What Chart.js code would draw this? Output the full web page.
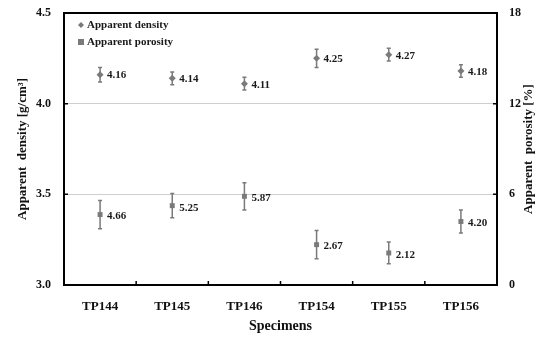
<!DOCTYPE html>
<html>
<head>
<meta charset="utf-8">
<script src="https://cdn.jsdelivr.net/npm/chart.js@4.4.1/dist/chart.umd.min.js"></script>
<style>
  html, body { margin: 0; padding: 0; background: #fff; }
  #wrap { width: 547px; height: 338px; }
</style>
</head>
<body>
<div id="wrap"><canvas id="myChart"></canvas></div>
<script>
// datos
const specimens = ["TP144", "TP145", "TP146", "TP154", "TP155", "TP156"];
const density = [4.16, 4.14, 4.11, 4.25, 4.27, 4.18];
const densityErr = [0.04, 0.035, 0.035, 0.05, 0.035, 0.035];
const porosity = [4.66, 5.25, 5.87, 2.67, 2.12, 4.20];
const porosityErr = [0.93, 0.8, 0.9, 0.93, 0.72, 0.76];
const densityTicks = [3.0, 3.5, 4.0, 4.5];
const porosityTicks = [0, 6, 12, 18];

const serif = "'Liberation Serif', 'Times New Roman', serif";
const gris = "#7a7a7a";

// barras de error, etiquetas, marco y leyenda
const extras = {
  id: "extras",
  afterDatasetsDraw(chart) {
    const ctx = chart.ctx;
    const a = chart.chartArea;
    const x = chart.scales.x;
    const y = chart.scales.y;
    const y1 = chart.scales.y1;
    ctx.save();

    // barras de error
    ctx.strokeStyle = gris;
    ctx.lineWidth = 1.5;
    const bars = (vals, errs, sc) => {
      vals.forEach((v, i) => {
        const px = x.getPixelForValue(i);
        const top = sc.getPixelForValue(v + errs[i]);
        const bot = sc.getPixelForValue(v - errs[i]);
        ctx.beginPath();
        ctx.moveTo(px, top); ctx.lineTo(px, bot);
        ctx.moveTo(px - 2, top); ctx.lineTo(px + 2, top);
        ctx.moveTo(px - 2, bot); ctx.lineTo(px + 2, bot);
        ctx.stroke();
      });
    };
    bars(density, densityErr, y);
    bars(porosity, porosityErr, y1);

    // etiquetas de valores
    ctx.fillStyle = "#1a1a1a";
    ctx.font = "bold 11px " + serif;
    ctx.textAlign = "left";
    ctx.textBaseline = "middle";
    density.forEach((v, i) => {
      ctx.fillText(v.toFixed(2), x.getPixelForValue(i) + 7, y.getPixelForValue(v) + 1);
    });
    porosity.forEach((v, i) => {
      ctx.fillText(v.toFixed(2), x.getPixelForValue(i) + 7, y1.getPixelForValue(v) + 2);
    });

    // marcas hacia adentro
    ctx.strokeStyle = "#000";
    ctx.lineWidth = 1.5;
    ctx.beginPath();
    densityTicks.forEach(t => {
      const py = y.getPixelForValue(t);
      ctx.moveTo(a.left, py); ctx.lineTo(a.left + 4, py);
    });
    porosityTicks.forEach(t => {
      const py = y1.getPixelForValue(t);
      ctx.moveTo(a.right, py); ctx.lineTo(a.right - 4, py);
    });
    for (let i = 1; i < specimens.length; i++) {
      const px = (x.getPixelForValue(i - 1) + x.getPixelForValue(i)) / 2;
      ctx.moveTo(px, a.bottom); ctx.lineTo(px, a.bottom - 4);
    }
    ctx.stroke();

    // marco
    ctx.lineWidth = 2;
    ctx.strokeRect(a.left, a.top, a.right - a.left, a.bottom - a.top);

    // leyenda
    ctx.font = "bold 11px " + serif;
    ctx.fillStyle = gris;
    const lx = a.left + 17;
    const ly = a.top + 12;
    ctx.beginPath();
    ctx.moveTo(lx, ly - 3); ctx.lineTo(lx + 3, ly); ctx.lineTo(lx, ly + 3); ctx.lineTo(lx - 3, ly);
    ctx.closePath();
    ctx.fill();
    ctx.fillRect(lx - 3, ly + 14, 6, 6);
    ctx.fillStyle = "#1a1a1a";
    ctx.fillText("Apparent density", lx + 6, ly);
    ctx.fillText("Apparent porosity", lx + 6, ly + 17);

    // titulo eje derecho (leido de abajo hacia arriba)
    ctx.translate(529, (a.top + a.bottom) / 2);
    ctx.rotate(-Math.PI / 2);
    ctx.font = "bold 13px " + serif;
    ctx.textAlign = "center";
    ctx.fillStyle = "#111";
    ctx.fillText("Apparent  porosity [%]", 0, 0);
    ctx.restore();
  }
};

function sinRelleno(scale) {
  scale.paddingTop = 0;
  scale.paddingBottom = 0;
}

const ctx = document.getElementById("myChart");
new Chart(ctx, {
  type: "line",
  data: {
    labels: specimens,
    datasets: [
      {
        label: "Apparent density",
        data: density,
        yAxisID: "y",
        showLine: false,
        pointStyle: "rectRot",
        pointRadius: 3.5,
        backgroundColor: gris,
        borderColor: gris,
        borderWidth: 0,
      },
      {
        label: "Apparent porosity",
        data: porosity,
        yAxisID: "y1",
        showLine: false,
        pointStyle: "rect",
        pointRadius: 3.5,
        backgroundColor: gris,
        borderColor: gris,
        borderWidth: 0,
      },
    ],
  },
  options: {
    responsive: true,
    maintainAspectRatio: false,
    animation: false,
    layout: { padding: { top: 13, left: 0, right: 0, bottom: 0 } },
    plugins: {
      legend: { display: false },
      tooltip: { enabled: false },
    },
    scales: {
      x: {
        offset: true,
        grid: { display: false, drawTicks: false },
        border: { display: false },
        ticks: {
          padding: 14,
          color: "#111",
          font: { family: serif, size: 13, weight: "bold" },
        },
        title: {
          display: true,
          text: "Specimens",
          color: "#111",
          padding: { top: 0, bottom: 3 },
          font: { family: serif, size: 14, weight: "bold" },
        },
        afterFit(scale) {
          scale.height = 53;
          scale.paddingLeft = 0;
          scale.paddingRight = 0;
        },
      },
      y: {
        position: "left",
        min: 3.0,
        max: 4.5,
        afterBuildTicks(scale) { scale.ticks = densityTicks.map(v => ({ value: v })); },
        grid: { color: "#cfcfcf", lineWidth: 1, drawTicks: false },
        border: { display: false },
        ticks: {
          padding: 13,
          color: "#111",
          font: { family: serif, size: 12, weight: "bold" },
          callback: v => v.toFixed(1),
        },
        title: {
          display: true,
          text: "Apparent  density [g/cm³]",
          color: "#111",
          padding: { top: 15, bottom: 0 },
          font: { family: serif, size: 13, weight: "bold" },
        },
        afterFit(scale) { scale.width = 64; sinRelleno(scale); },
      },
      y1: {
        position: "right",
        min: 0,
        max: 18,
        afterBuildTicks(scale) { scale.ticks = porosityTicks.map(v => ({ value: v })); },
        grid: { display: false, drawTicks: false },
        border: { display: false },
        ticks: {
          padding: 12,
          color: "#111",
          font: { family: serif, size: 12, weight: "bold" },
        },
        afterFit(scale) { scale.width = 50; sinRelleno(scale); },
      },
    },
  },
  plugins: [extras],
});
</script>
</body>
</html>
